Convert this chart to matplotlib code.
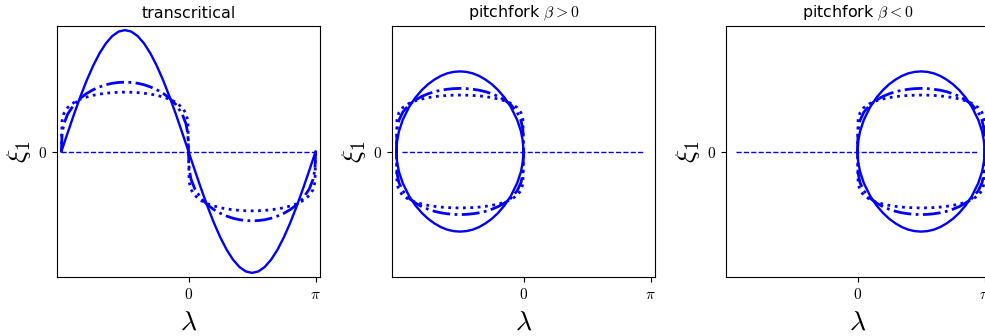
from matplotlib import pyplot as plt
import numpy as np

plt.rcParams['mathtext.fontset'] = 'cm'

# half-period grid (in units of pi) on which the curves were read
grid = [0, 0.005, 0.02, 0.05, 0.1, 0.15, 0.2, 0.25, 0.3, 0.35, 0.4, 0.45, 0.5,
        0.55, 0.6, 0.65, 0.7, 0.75, 0.8, 0.85, 0.9, 0.95, 0.98, 0.995, 1.0]

# transcritical: upper arc over [-pi, 0], mirrored to lower arc over [0, pi]
trans_solid = [0, 0.016, 0.063, 0.156, 0.309, 0.454, 0.588, 0.707, 0.809, 0.891, 0.951, 0.988, 1.0,
               0.988, 0.951, 0.891, 0.809, 0.707, 0.588, 0.454, 0.309, 0.156, 0.063, 0.016, 0]
trans_dashdot = [0, 0.145, 0.229, 0.309, 0.388, 0.440, 0.479, 0.509, 0.532, 0.550, 0.562, 0.569, 0.571,
                 0.569, 0.562, 0.550, 0.532, 0.509, 0.479, 0.440, 0.388, 0.309, 0.229, 0.145, 0]
trans_dotted = [0, 0.251, 0.314, 0.363, 0.405, 0.431, 0.449, 0.463, 0.473, 0.480, 0.485, 0.488, 0.489,
                0.488, 0.485, 0.480, 0.473, 0.463, 0.449, 0.431, 0.405, 0.363, 0.314, 0.251, 0]

# pitchfork: closed loop, upper and lower branches
pitch_solid = [0, 0.083, 0.166, 0.261, 0.367, 0.445, 0.506, 0.555, 0.593, 0.623, 0.644, 0.656, 0.660,
               0.656, 0.644, 0.623, 0.593, 0.555, 0.506, 0.445, 0.367, 0.261, 0.166, 0.083, 0]
pitch_dashdot = [0, 0.180, 0.257, 0.324, 0.386, 0.425, 0.454, 0.476, 0.493, 0.505, 0.513, 0.518, 0.520,
                 0.518, 0.513, 0.505, 0.493, 0.476, 0.454, 0.425, 0.386, 0.324, 0.257, 0.180, 0]
pitch_dotted = [0, 0.265, 0.320, 0.362, 0.397, 0.418, 0.433, 0.444, 0.452, 0.458, 0.462, 0.464, 0.465,
                0.464, 0.462, 0.458, 0.452, 0.444, 0.433, 0.418, 0.397, 0.362, 0.320, 0.265, 0]

titles = ['transcritical', r'pitchfork $\beta>0$', r'pitchfork $\beta<0$']
loop_start = [None, -1.0, 0.0]  # where the pitchfork loop begins (units of pi)
dashed_span = [(-np.pi, np.pi), (-3, 3), (-3, 3)]

fig = plt.figure(figsize=(9.85, 3.36), dpi=100)
lefts = [57/985, 392/985, 726/985]
axes = [fig.add_axes([l, 59/336, 263/985, 251/336]) for l in lefts]

g = np.array(grid) * np.pi
styles = [('-', 1.7), ('-.', 2.0), (':', 2.0)]

for i, ax in enumerate(axes):
    if i == 0:
        curves = [trans_solid, trans_dashdot, trans_dotted]
        for c, (ls, lw) in zip(curves, styles):
            c = np.array(c)
            ax.plot(np.concatenate([g - np.pi, g]), np.concatenate([c, -c]), color='b', ls=ls, lw=lw)
    else:
        curves = [pitch_solid, pitch_dashdot, pitch_dotted]
        x0 = loop_start[i] * np.pi
        for c, (ls, lw) in zip(curves, styles):
            c = np.array(c)
            ax.plot(np.concatenate([g + x0, (g + x0)[::-1]]), np.concatenate([c, -c[::-1]]),
                    color='b', ls=ls, lw=lw)
    ax.plot(dashed_span[i], [0, 0], color='b', ls='--', lw=1.0)

    ax.set_xlim(-3.25, 3.25)
    ax.set_ylim(-1.034, 1.034)
    ax.set_xticks([0, np.pi])
    ax.set_xticklabels(['$0$', r'$\pi$'], fontsize=11)
    ax.set_yticks([0])
    ax.set_yticklabels(['$0$'], fontsize=11)
    ax.set_xlabel(r'$\lambda$', fontsize=20)
    ax.set_ylabel(r'$\xi_1$', fontsize=20)
    ax.set_title(titles[i], fontsize=11.4)

fig.savefig('out.png', dpi=100)
